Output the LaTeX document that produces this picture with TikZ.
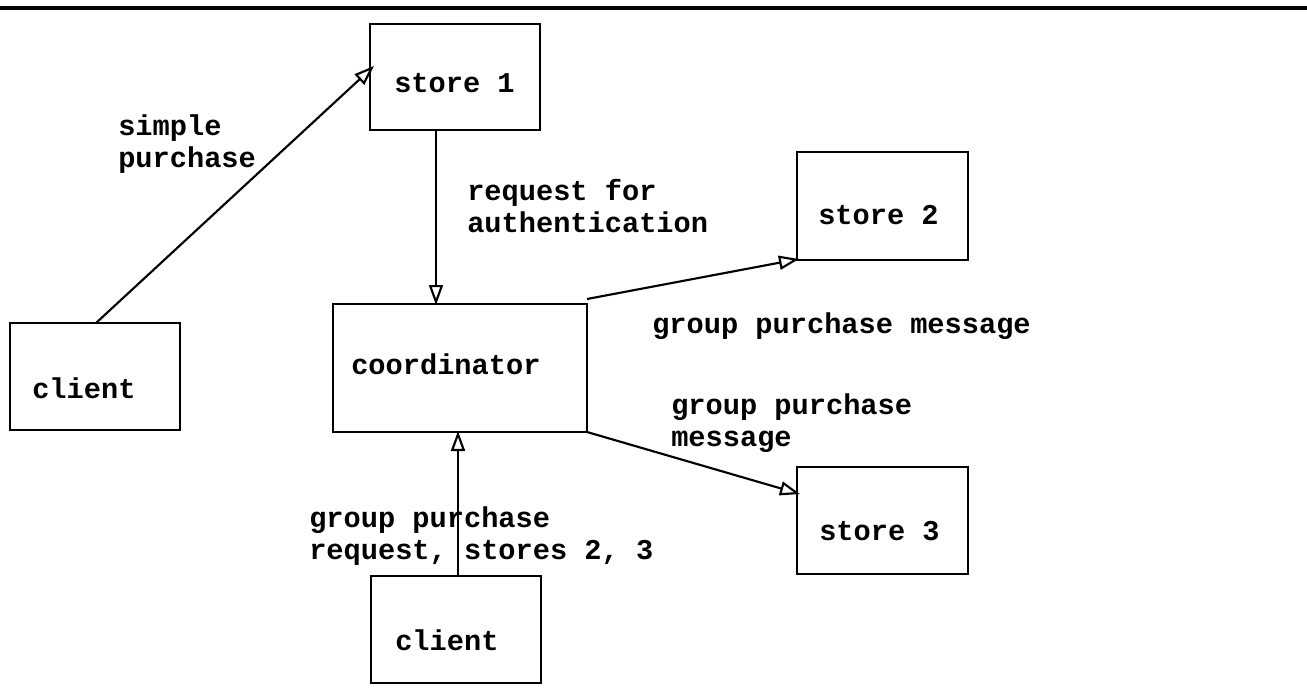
\documentclass[tikz,border=0pt]{standalone}
\usepackage{fontspec}
\setmonofont{Liberation Mono}
\usetikzlibrary{arrows.meta}
\tikzset{
  box/.style={draw, line width=1.8pt, rectangle, inner sep=0pt},
  lbl/.style={font=\ttfamily\bfseries\fontsize{21.5}{24}\selectfont, anchor=west, inner sep=0pt, align=left},
  msg/.style={line width=1.6pt, -{Triangle[open, length=15pt, width=10.5pt, line width=1.6pt]}},
}
\begin{document}
\begin{tikzpicture}[x=0.75pt, y=-0.75pt]
  \useasboundingbox (0,0) rectangle (1307,687);
  % top rule
  \draw[line width=2.6pt] (0,8) -- (1307,8);

  % boxes (corner coordinates in pixel units)
  \node[box, minimum width=127.5pt, minimum height=79.5pt] (store1) at (455,77) {};
  \node[box, minimum width=128.25pt, minimum height=81pt] (store2) at (882.5,206) {};
  \node[box, minimum width=190.5pt, minimum height=96pt] (coord) at (460,368) {};
  \node[box, minimum width=127.5pt, minimum height=80.25pt] (clientA) at (95,376.5) {};
  \node[box, minimum width=128.25pt, minimum height=80.25pt] (store3) at (882.5,520.5) {};
  \node[box, minimum width=127.5pt, minimum height=80.25pt] (clientB) at (456,629.5) {};

  % box texts
  \node[lbl] (t-store1) at (394,83) {store 1};
  \node[lbl] (t-store2) at (818,215) {store 2};
  \node[lbl] (t-coord) at (351,364) {coordinator};
  \node[lbl] (t-clientA) at (32,388) {client};
  \node[lbl] (t-store3) at (819,531) {store 3};
  \node[lbl] (t-clientB) at (395,640) {client};

  % connector end points on the box borders
  \coordinate (a0) at (96,323);
  \coordinate (a1) at (374,66);
  \coordinate (b0) at (436,130);
  \coordinate (b1) at (436,305);
  \coordinate (c0) at (587,299);
  \coordinate (c1) at (799,259);
  \coordinate (d0) at (587,432);
  \coordinate (d1) at (800,494);
  \coordinate (e0) at (458,576);
  \coordinate (e1) at (458,431);

  \draw[msg] (a0) -- (a1);
  \draw[msg] (b0) -- (b1);
  \draw[msg] (c0) -- (c1);
  \draw[msg] (d0) -- (d1);
  \draw[msg] (e0) -- (e1);

  % message labels
  \node[lbl] (l-simple) at (118,144) {simple\\purchase};
  \node[lbl] (l-auth) at (467,206) {request for\\authentication};
  \node[lbl] (l-grp2) at (652,326) {group purchase message};
  \node[lbl] (l-grp3) at (671,423) {group purchase\\message};
  \node[lbl] (l-req) at (309,536) {group purchase\\request, stores 2, 3};
\end{tikzpicture}
\end{document}
